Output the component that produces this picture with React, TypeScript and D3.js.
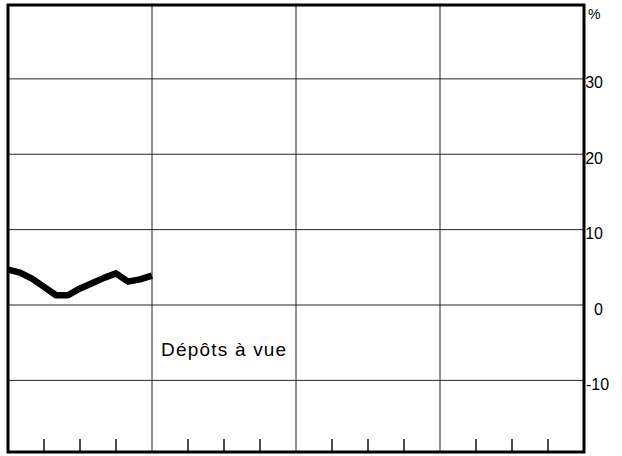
import * as d3 from "d3";

// months 0..12 of the first year (monthly points)
const months = [0, 1, 2, 3, 4, 5, 6, 7, 8, 9, 10, 11, 12];
const depotsAVue = [4.7, 4.3, 3.5, 2.4, 1.3, 1.3, 2.2, 2.9, 3.6, 4.2, 3.1, 3.4, 3.9];

const yTicks = [-10, 0, 10, 20, 30];
const yearBreaks = [12, 24, 36];
const quarterTicks = [3, 6, 9, 15, 18, 21, 27, 30, 33, 39, 42, 45];

const W = 622;
const H = 456;
const left = 8;
const right = 584;
const top = 5;
const bottom = 452;

export default function App() {
  const x = d3.scaleLinear().domain([0, 48]).range([left, right]);
  const y = d3.scaleLinear().domain([-19.5, 39.8]).range([bottom, top]);

  const line = d3
    .line<number>()
    .x((_, i) => x(months[i]))
    .y((d) => y(d));

  const font = "'Liberation Sans', Arial, sans-serif";

  return (
    <svg
      width={W}
      height={H}
      style={{ position: "absolute", left: 0, top: 0, background: "#fff" }}
    >
      {/* horizontal grid */}
      {yTicks.map((t) => (
        <line key={"h" + t} x1={left} x2={right} y1={y(t)} y2={y(t)} stroke="#222" strokeWidth={1} />
      ))}
      {/* year separators */}
      {yearBreaks.map((m) => (
        <line key={"v" + m} x1={x(m)} x2={x(m)} y1={top} y2={bottom} stroke="#222" strokeWidth={1} />
      ))}
      {/* quarter ticks */}
      {quarterTicks.map((m) => (
        <line key={"q" + m} x1={x(m)} x2={x(m)} y1={bottom - 13} y2={bottom} stroke="#111" strokeWidth={1.5} />
      ))}
      {/* frame */}
      <rect x={left} y={top} width={right - left} height={bottom - top} fill="none" stroke="#000" strokeWidth={3} />

      {/* series */}
      <path
        d={line(depotsAVue) ?? ""}
        fill="none"
        stroke="#000"
        strokeWidth={6.5}
        strokeLinejoin="round"
      />

      {/* axis labels */}
      {yTicks.map((t) => (
        <text
          key={"l" + t}
          x={t < 0 ? 586 : 603}
          y={y(t) + 9.5}
          textAnchor={t < 0 ? "start" : "end"}
          fontFamily={font}
          fontSize={16}
          fill="#000"
        >
          {t}
        </text>
      ))}
      <text x={588} y={19} fontFamily={font} fontSize={14} fill="#000">
        %
      </text>

      <text x={161} y={356} fontFamily={font} fontSize={19} letterSpacing={1.2} fill="#000">
        Dépôts à vue
      </text>
    </svg>
  );
}
